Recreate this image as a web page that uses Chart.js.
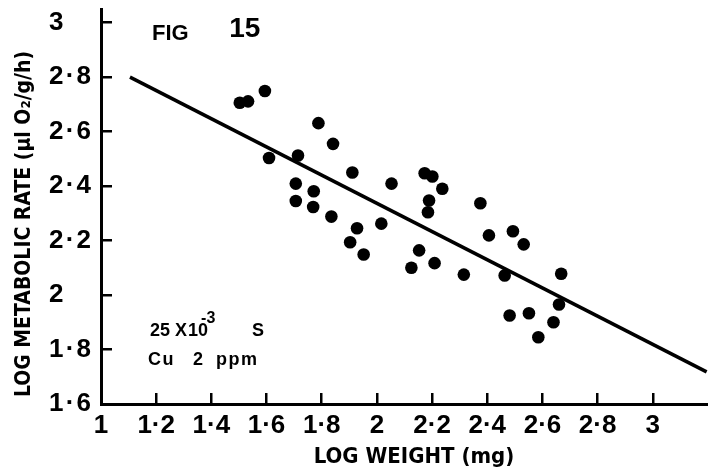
<!DOCTYPE html>
<html>
<head>
<meta charset="utf-8">
<script src="https://cdn.jsdelivr.net/npm/chart.js@4.4.1/dist/chart.umd.min.js"></script>
<style>
  html, body { margin: 0; padding: 0; background: #fff; }
  #wrap { width: 708px; height: 470px; }
</style>
</head>
<body>
<div id="wrap"><canvas id="fig15"></canvas></div>
<script>
// log weight (mg) / log metabolic rate, one pair per animal
const logWeight = [1.503, 1.533, 1.594, 1.788, 1.841, 1.609, 1.714, 1.911, 1.706, 1.771,
                   1.706, 1.769, 1.835, 1.928, 1.903, 1.952, 2.016, 2.053, 2.173, 2.201,
                   2.237, 2.189, 2.185, 2.153, 2.209, 2.125, 2.315, 2.375, 2.406, 2.493,
                   2.532, 2.463, 2.668, 2.660, 2.481, 2.551, 2.640, 2.585];
const logRate = [2.706, 2.711, 2.749, 2.631, 2.555, 2.503, 2.512, 2.450, 2.409, 2.381,
                 2.345, 2.323, 2.288, 2.245, 2.194, 2.149, 2.262, 2.409, 2.447, 2.435,
                 2.390, 2.347, 2.304, 2.164, 2.117, 2.100, 2.075, 2.337, 2.219, 2.234,
                 2.186, 2.072, 2.078, 1.965, 1.925, 1.933, 1.900, 1.845];

// regression line end points
const fitWeight = [1.105, 3.195];
const fitRate = [2.8, 1.718];

// axis ticks
const xTicks = [1, 1.2, 1.4, 1.6, 1.8, 2, 2.2, 2.4, 2.6, 2.8, 3];
const xTickLabels = ['1', '1·2', '1·4', '1·6', '1·8', '2', '2·2', '2·4', '2·6', '2·8', '3'];
const yTicks = [1.6, 1.8, 2, 2.2, 2.4, 2.6, 2.8, 3];
const yTickLabels = ['1\u200a·\u200a6', '1\u200a·\u200a8', '2', '2\u200a·\u200a2', '2\u200a·\u200a4',
                     '2\u200a·\u200a6', '2\u200a·\u200a8', '3'];

const INK = '#000';
const tickFont = { family: '"Liberation Sans", Arial, sans-serif', size: 26, weight: 'bold' };
const noteFont = 'bold 18px "Liberation Sans", Arial, sans-serif';

// axis titles and figure notes
const notesPlugin = {
  id: 'notes',
  afterDraw(chart) {
    const { ctx, scales: { x, y } } = chart;
    ctx.save();
    ctx.fillStyle = INK;
    ctx.textBaseline = 'alphabetic';
    ctx.textAlign = 'left';

    ctx.font = 'bold 22px "Liberation Sans", Arial, sans-serif';
    ctx.fillText('FIG', x.getPixelForValue(1.185), y.getPixelForValue(2.937));
    ctx.font = 'bold 28px "Liberation Sans", Arial, sans-serif';
    ctx.fillText('15', x.getPixelForValue(1.465), y.getPixelForValue(2.946));

    // 25 X 10^-3 S
    const left = x.getPixelForValue(1.178);
    let base = y.getPixelForValue(1.85);
    ctx.font = noteFont;
    ctx.fillText('25', left, base);
    ctx.fillText('X', left + 25, base);
    ctx.fillText('10', left + 38, base);
    ctx.font = 'bold 16px "Liberation Sans", Arial, sans-serif';
    ctx.fillText('-3', left + 51, base - 13);
    ctx.font = noteFont;
    ctx.fillText('S', left + 102, base);

    // Cu 2 ppm
    base = y.getPixelForValue(1.743);
    ctx.letterSpacing = '1.5px';
    ctx.fillText('Cu', left - 2, base);
    ctx.fillText('2', left + 43, base);
    ctx.fillText('ppm', left + 66, base);
    ctx.letterSpacing = '0px';

    // x title
    ctx.font = 'bold 22px "DejaVu Sans Condensed", "DejaVu Sans", sans-serif';
    ctx.textAlign = 'center';
    ctx.textBaseline = 'middle';
    ctx.fillText('LOG WEIGHT (mg)', 414, 457);

    // rotated y title
    ctx.font = 'bold 21px "DejaVu Sans Condensed", "DejaVu Sans", sans-serif';
    ctx.translate(25, 224);
    ctx.rotate(-Math.PI / 2);
    ctx.fillText('LOG METABOLIC RATE (μl O₂/g/h)', 0, 0);
    ctx.restore();
  }
};

const points = logWeight.map((w, i) => ({ x: w, y: logRate[i] }));
const fitLine = fitWeight.map((w, i) => ({ x: w, y: fitRate[i] }));

new Chart(document.getElementById('fig15'), {
  type: 'scatter',
  data: {
    datasets: [
      {
        data: points,
        backgroundColor: INK,
        borderWidth: 0,
        pointRadius: 6.3,
        pointHoverRadius: 6.3
      },
      {
        type: 'line',
        data: fitLine,
        borderColor: INK,
        borderWidth: 3.5,
        pointRadius: 0,
        fill: false
      }
    ]
  },
  options: {
    responsive: true,
    maintainAspectRatio: false,
    animation: false,
    devicePixelRatio: 1,
    layout: { autoPadding: false, padding: { left: 49, top: 9, right: 0, bottom: 0 } },
    plugins: { legend: { display: false }, tooltip: { enabled: false } },
    scales: {
      x: {
        type: 'linear',
        min: 1,
        max: 3.2,
        afterBuildTicks: s => { s.ticks = xTicks.map(v => ({ value: v })); },
        afterFit: s => { s.height = 66; s.paddingLeft = 0; s.paddingRight = 0; },
        border: { color: INK, width: 3 },
        grid: { drawOnChartArea: false, color: INK, lineWidth: 2.5, tickLength: -11 },
        ticks: {
          color: INK, font: tickFont, padding: 17, maxRotation: 0, autoSkip: false,
          callback: (v, i) => xTickLabels[i]
        }
      },
      y: {
        type: 'linear',
        min: 1.6,
        max: 3.05,
        afterBuildTicks: s => { s.ticks = yTicks.map(v => ({ value: v })); },
        afterFit: s => { s.width = 52; s.paddingTop = 0; s.paddingBottom = 0; },
        border: { color: INK, width: 3 },
        grid: { drawOnChartArea: false, color: INK, lineWidth: 2.5, tickLength: -11 },
        ticks: {
          color: INK, font: tickFont, crossAlign: 'far', autoSkip: false,
          callback: (v, i) => yTickLabels[i]
        }
      }
    }
  },
  plugins: [notesPlugin]
});
</script>
</body>
</html>
